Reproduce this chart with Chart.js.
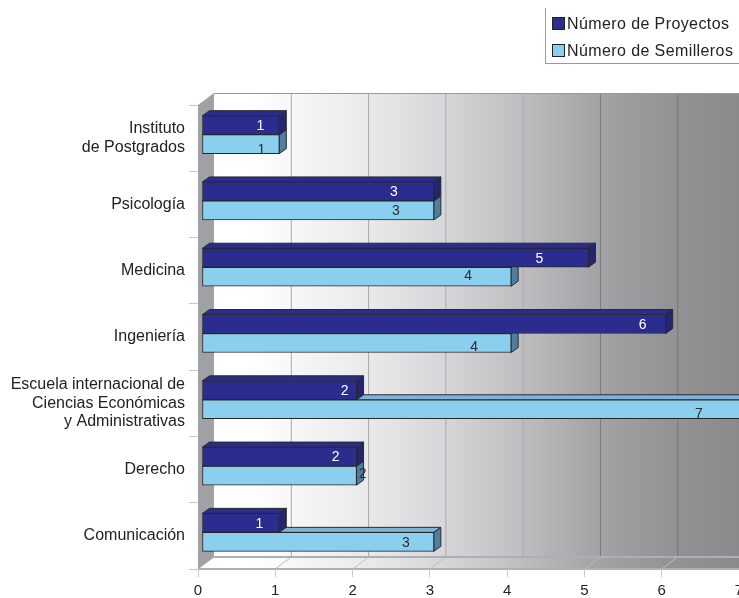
<!DOCTYPE html>
<html>
<head>
<meta charset="utf-8">
<title>Proyectos y semilleros</title>
<script src="https://cdn.jsdelivr.net/npm/chart.js@4"></script>
<style>
  body { margin: 0; background: #fff; }
  #wrap { position: relative; width: 739px; height: 598px; overflow: hidden; }
  #legend {
    position: absolute; left: 545px; top: 8px; width: 194px; height: 56px;
    box-sizing: border-box; border-left: 1px solid #999; border-bottom: 1px solid #999;
    font: 16px/18px "Liberation Sans", Arial, sans-serif; color: #222; letter-spacing: 0.4px;
  }
  #legend div { position: absolute; left: 6px; white-space: nowrap; }
  #legend i {
    display: inline-block; width: 11px; height: 11px; margin-right: 2px;
    border: 1px solid #222; vertical-align: -1px;
  }
</style>
</head>
<body>
<div id="wrap">
  <canvas id="chart" width="739" height="598"></canvas>
  <div id="legend"></div>
</div>
<script>
const categories = [
  ['Instituto', 'de Postgrados'],
  'Psicología',
  'Medicina',
  'Ingeniería',
  ['Escuela internacional de', 'Ciencias Económicas', 'y Administrativas'],
  'Derecho',
  'Comunicación'
];
const proyectos = [1, 3, 5, 6, 2, 2, 1];
const semilleros = [1, 3, 4, 4, 7, 2, 3];
const xTicks = [0, 1, 2, 3, 4, 5, 6, 7];

// Value labels sit at odd places in the original, so nudge each one from the bar end
const darkNudgeX = [-19, -40, -49, -23, -12, -21, -20];
const lightNudgeX = [-18, -38, -43, -37, -44, 6, -28];
const lightNudgeY = [5, 0, -2, 3, 4, -2, 0];

const DEPTH_X = 16, DEPTH_Y = 12;   // back wall offset
const BAR_DX = 7, BAR_DY = 5;       // bar extrusion
const SHIFT_X = 4, SHIFT_Y = -3.5;  // bars stand off from the front plane

function wallGradient(ctx, left, right) {
  const g = ctx.createLinearGradient(left, 0, right, 0);
  g.addColorStop(0, '#ffffff');
  g.addColorStop(0.07, '#ffffff');
  g.addColorStop(0.15, '#f7f7f7');
  g.addColorStop(0.3, '#e9e9ea');
  g.addColorStop(0.44, '#d6d6d8');
  g.addColorStop(0.58, '#bfbfc1');
  g.addColorStop(0.72, '#a5a5a7');
  g.addColorStop(0.86, '#949496');
  g.addColorStop(1, '#8a8a8c');
  return g;
}

function poly(ctx, pts, fill, stroke) {
  ctx.beginPath();
  pts.forEach((p, i) => i ? ctx.lineTo(p[0], p[1]) : ctx.moveTo(p[0], p[1]));
  ctx.closePath();
  ctx.fillStyle = fill;
  ctx.fill();
  if (stroke) {
    ctx.strokeStyle = stroke;
    ctx.lineWidth = 1;
    ctx.stroke();
  }
}

// Back wall, side wall and floor behind the axes
const roomPlugin = {
  id: 'room',
  beforeDraw(chart) {
    const { ctx, chartArea: a, scales: { x } } = chart;
    const backLeft = a.left + DEPTH_X, backTop = a.top - DEPTH_Y, backBottom = a.bottom - DEPTH_Y;
    const g = wallGradient(ctx, backLeft, chart.width);
    ctx.save();
    ctx.fillStyle = g;
    ctx.fillRect(backLeft, backTop, chart.width - backLeft, backBottom - backTop);
    poly(ctx, [[a.left, a.bottom], [backLeft, backBottom], [chart.width + 2, backBottom], [chart.width + 2, a.bottom]], g);

    ctx.lineWidth = 1;
    xTicks.forEach(v => {
      const px = x.getPixelForValue(v);
      ctx.strokeStyle = v === 0 ? 'rgba(0,0,0,0)' : (v > 4 ? '#77787b' : '#a9aaad');
      ctx.beginPath();
      ctx.moveTo(px + DEPTH_X, backTop);
      ctx.lineTo(px + DEPTH_X, backBottom);
      ctx.stroke();
      ctx.strokeStyle = '#bcbdc0';
      ctx.beginPath();
      ctx.moveTo(px, a.bottom);
      ctx.lineTo(px + DEPTH_X, backBottom);
      ctx.stroke();
    });

    // top edge, floor edges
    ctx.strokeStyle = '#9a9b9e';
    ctx.beginPath();
    ctx.moveTo(backLeft, backTop + 0.5);
    ctx.lineTo(chart.width, backTop + 0.5);
    ctx.stroke();
    ctx.lineWidth = 2;
    ctx.strokeStyle = '#aeafb2';
    ctx.beginPath();
    ctx.moveTo(backLeft, backBottom);
    ctx.lineTo(chart.width, backBottom);
    ctx.moveTo(a.left, a.bottom);
    ctx.lineTo(chart.width, a.bottom);
    ctx.stroke();

    poly(ctx, [[a.left, a.top], [backLeft, backTop], [backLeft, backBottom], [a.left, a.bottom]], '#a0a1a4');
    ctx.restore();
  }
};

// Extruded faces are painted just before each dataset, value labels after all of them
const barFacesPlugin = {
  id: 'barFaces',
  beforeDatasetsDraw(chart) {
    chart.ctx.save();
    chart.ctx.translate(SHIFT_X, SHIFT_Y);
  },
  beforeDatasetDraw(chart, args) {
    const ds = chart.data.datasets[args.index];
    const ctx = chart.ctx;
    args.meta.data.forEach(bar => {
      const left = bar.base, right = bar.x;
      const top = bar.y - bar.height / 2, bottom = bar.y + bar.height / 2;
      poly(ctx, [[left, top], [left + BAR_DX, top - BAR_DY], [right + BAR_DX, top - BAR_DY], [right, top]], ds.topColor, '#2a2a2e');
      poly(ctx, [[right, top], [right + BAR_DX, top - BAR_DY], [right + BAR_DX, bottom - BAR_DY], [right, bottom]], ds.sideColor, '#2a2a2e');
    });
  },
  afterDatasetsDraw(chart) {
    const ctx = chart.ctx;
    ctx.font = '14px "Liberation Sans", Arial, sans-serif';
    ctx.textAlign = 'center';
    ctx.textBaseline = 'middle';
    chart.getDatasetMeta(1).data.forEach((bar, i) => {
      ctx.fillStyle = '#2b2b30';
      ctx.fillText(semilleros[i], bar.x + lightNudgeX[i], bar.y + lightNudgeY[i] + 1);
    });
    chart.getDatasetMeta(0).data.forEach((bar, i) => {
      ctx.fillStyle = '#ffffff';
      ctx.fillText(proyectos[i], bar.x + darkNudgeX[i], bar.y + 1);
    });
    ctx.restore();
  }
};

const chart = new Chart(document.getElementById('chart').getContext('2d'), {
  type: 'bar',
  plugins: [roomPlugin, barFacesPlugin],
  data: {
    labels: categories,
    datasets: [
      {
        label: 'Número de Proyectos',
        data: proyectos,
        backgroundColor: '#2b2d8e',
        topColor: '#2b2d8e',
        sideColor: '#23256f',
        borderColor: '#26262a',
        borderWidth: 1,
        borderSkipped: false,
        barThickness: 19,
        clip: false
      },
      {
        label: 'Número de Semilleros',
        data: semilleros,
        backgroundColor: '#8bcfee',
        topColor: '#7fb4d6',
        sideColor: '#4f7f9f',
        borderColor: '#26262a',
        borderWidth: 1,
        borderSkipped: false,
        barThickness: 19,
        clip: false
      }
    ]
  },
  options: {
    indexAxis: 'y',
    responsive: false,
    animation: false,
    layout: { padding: { top: 105, right: -1.5, left: 0, bottom: 0 } },
    plugins: {
      legend: { display: false },
      tooltip: { enabled: false }
    },
    scales: {
      x: {
        min: 0,
        max: 7,
        afterBuildTicks(scale) {
          scale.ticks = xTicks.map(v => ({ value: v }));
        },
        afterFit(scale) {
          scale.height = 29;
          scale.paddingLeft = 0;
          scale.paddingRight = 0;
        },
        border: { display: false },
        grid: { drawOnChartArea: false, drawTicks: true, tickLength: 8, color: '#c8c9cc' },
        ticks: {
          padding: 5,
          maxRotation: 0,
          color: '#222',
          font: { family: '"Liberation Sans", Arial, sans-serif', size: 15 }
        }
      },
      y: {
        afterFit(scale) {
          scale.width = 198;
        },
        border: { display: false },
        grid: { drawOnChartArea: false, drawTicks: true, tickLength: 9, color: '#c4c5c8' },
        ticks: {
          padding: 4,
          color: '#222',
          autoSkip: false,
          font: { family: '"Liberation Sans", Arial, sans-serif', size: 16, lineHeight: 1.15 }
        }
      }
    }
  }
});

// Legend box in the top right corner
const legendEl = document.getElementById('legend');
chart.data.datasets.forEach((ds, i) => {
  const row = document.createElement('div');
  row.style.top = (i === 0 ? 7 : 34) + 'px';
  const swatch = document.createElement('i');
  swatch.style.background = ds.backgroundColor;
  row.appendChild(swatch);
  row.appendChild(document.createTextNode(ds.label));
  legendEl.appendChild(row);
});
</script>
</body>
</html>
